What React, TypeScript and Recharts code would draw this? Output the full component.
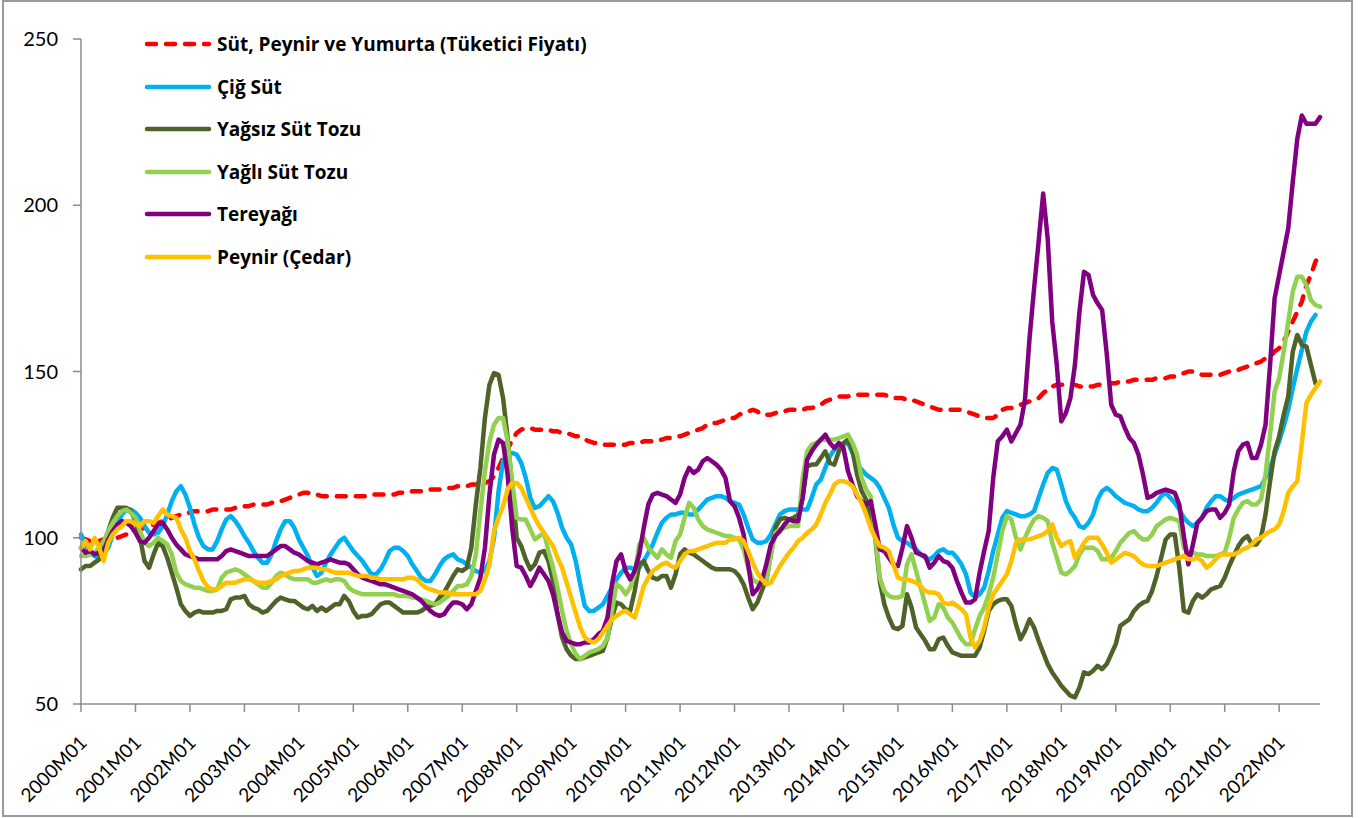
import React from "react";
import { LineChart, Line, XAxis, YAxis, Legend } from "recharts";

// ---- categories (monthly, 2000M01 .. 2022M10) ----
const months: string[] = [];
for (let y = 2000; y <= 2022; y++) {
  for (let m = 1; m <= 12; m++) {
    if (months.length < 274) months.push(`${y}M${String(m).padStart(2, "0")}`);
  }
}

const yTicks = [50, 100, 150, 200, 250];

// ---- series values ----
const sutPeynirYumurta = [
  100, 99.5, 99, 99, 99, 99.5, 99.5, 100, 100, 100.5, 101, 101,
  102, 102.5, 103, 103.5, 104, 104.5, 105, 105.5, 106, 106.5, 107, 107.5,
  107.5, 108, 108, 108, 108, 108.5, 108.5, 108.5, 108.5, 108.5, 109, 109,
  109.5, 109.5, 110, 110, 110, 110, 110.5, 110.5, 111, 111.5, 112, 112.5,
  113, 113.5, 113.5, 113, 113, 112.5, 112.5, 112.5, 112.5, 112.5, 112.5, 112.5,
  112.5, 112.5, 112.5, 112.5, 113, 113, 113, 113, 113, 113, 113.5, 113.5,
  113.5, 114, 114, 114, 114, 114.5, 114.5, 114.5, 114.5, 115, 115, 115.5,
  115.5, 115.5, 116, 116, 116, 116.5, 117, 118.5, 121, 124, 126.5, 129.5,
  131.5, 132.5, 133, 133, 132.5, 132.5, 132.5, 132.5, 132, 132, 131.5, 131.5,
  131, 130.5, 130.5, 129.5, 129, 128.5, 128.5, 128, 128, 128, 128, 128,
  128, 128.5, 128.5, 128.5, 129, 129, 129, 129.5, 129.5, 130, 130, 130.5,
  130.5, 131, 131.5, 132, 132.5, 133, 134, 134.5, 134.5, 135, 135.5, 136,
  136, 137, 137.5, 138, 138.5, 138, 137, 137, 137, 137.5, 138, 138,
  138.5, 138.5, 138.5, 138.5, 139, 139, 139.5, 140, 141, 141.5, 142, 142.5,
  142.5, 142.5, 143, 143, 143, 143, 143, 143, 143, 143, 142.5, 142,
  142, 142, 141.5, 141.5, 141, 140.5, 140, 139.5, 139, 138.5, 138.5, 138.5,
  138.5, 138.5, 138.5, 138, 137.5, 137, 136.5, 136, 136, 136, 137, 138.5,
  139, 139, 139.5, 140, 140.5, 141, 141.5, 142, 143.5, 144.5, 145.5, 146,
  146, 146, 146, 146, 145.5, 145.5, 145.5, 145.5, 146, 146, 146, 146.5,
  146.5, 147, 147, 147, 147.5, 147.5, 147.5, 147.5, 147.5, 148, 148, 148,
  148.5, 148.5, 149, 149.5, 150, 150, 149.5, 149, 149, 149, 149, 149,
  149.5, 150, 150, 150.5, 151, 151.5, 152, 152.5, 153, 154, 154.5, 156,
  157, 159, 162, 165, 168, 171, 176, 179, 183, 185.5,
];

const cigSut = [
  101, 98, 95.5, 94.5, 94, 95, 97, 101, 104, 107, 108.5, 108.5,
  107.5, 106, 103.5, 101.5, 101, 101.5, 103.5, 107, 111, 114, 115.5, 113,
  109, 104, 100, 97.5, 96.5, 96.5, 99, 102.5, 105.5, 106.5, 105, 103,
  100.5, 98.5, 96, 94, 92.5, 92.5, 95, 99, 102.5, 105, 105, 103,
  99.5, 97, 94.5, 91, 88.5, 89.5, 92.5, 95, 97, 99, 100, 98,
  96, 94.5, 93, 91, 89, 89, 90.5, 93, 96, 97, 97, 96,
  94.5, 92, 90, 88, 87, 87, 89, 91.5, 93.5, 94.5, 95, 93.5,
  93, 92, 91, 90, 89.5, 90, 93, 100, 114, 123, 125.5, 125.5,
  125, 122.5, 118, 112, 109, 109.5, 111, 112.5, 111, 107.5, 103, 100,
  98, 93, 86, 79.5, 78, 78, 79, 80, 82.5, 85, 87.5, 89.5,
  91, 91, 90.5, 91, 93, 95.5, 98, 101.5, 104.5, 106, 107, 107,
  107.5, 107.5, 107, 107, 108.5, 110, 111.5, 112, 112.5, 112.5, 112, 111,
  110.5, 110, 107, 103, 99.5, 98.5, 98.5, 99, 101, 104, 107, 108,
  108.5, 108.5, 108.5, 108.5, 108.5, 112, 116, 117.5, 121, 124.5, 126.5, 127.5,
  128, 128.5, 125.5, 122, 120.5, 119, 118, 117, 115, 112, 109, 104,
  100, 99, 98.5, 97.5, 96.5, 95, 94, 93.5, 94.5, 96, 96.5, 95.5,
  95.5, 94, 92, 89, 83.5, 82, 83, 85, 90, 96, 101, 106,
  108, 107.5, 107, 106.5, 106.5, 107, 108, 112, 116, 119.5, 121, 120.5,
  116, 111, 108, 106, 103.5, 103, 104.5, 107, 111.5, 114, 115, 114,
  112.5, 111.5, 110.5, 110, 109.5, 108.5, 108, 108, 109, 110.5, 112.5, 113.5,
  112, 110.5, 108.5, 106, 104.5, 103.5, 104.5, 106, 109, 111, 112.5, 112.5,
  111.5, 111, 112, 113, 113.5, 114, 114.5, 115, 115.5, 118, 121, 125,
  129, 133.5, 138.5, 145, 151, 156.5, 162, 165, 167, null,
];

const yagsizSutTozu = [
  90.5, 91.5, 91.5, 92.5, 93.5, 97, 102, 106, 109, 109, 109, 108,
  105, 100, 93, 91, 95, 98.5, 97.5, 94, 89.5, 85, 80, 78,
  76.5, 77.5, 78, 77.5, 77.5, 77.5, 78, 78, 78.5, 81.5, 82, 82,
  82.5, 80, 79, 78.5, 77.5, 78, 79.5, 81, 82, 81.5, 81, 81,
  80, 79, 78.5, 79.5, 78, 79, 78, 79, 80, 80, 82.5, 81,
  78, 76, 76.5, 76.5, 77, 78.5, 80, 80.5, 80.5, 79.5, 78.5, 77.5,
  77.5, 77.5, 77.5, 78, 79, 79.5, 80, 82, 83.5, 86, 88.5, 90.5,
  90, 91, 97, 110, 121, 136, 146, 149.5, 149, 142, 130, 115,
  100, 97.5, 93.5, 90.5, 92, 95.5, 96, 93, 87, 77, 70, 66.5,
  64.5, 63.5, 63.5, 64, 64.5, 65, 65.5, 66, 70, 76, 80.5, 80,
  78.5, 78, 84, 92, 93, 90, 88, 87.5, 88.5, 88.5, 85, 89,
  95, 96.5, 95.5, 95, 94, 93, 92, 91, 90.5, 90.5, 90.5, 90.5,
  90, 88.5, 86, 82, 78.5, 80.5, 84, 87.5, 95, 103, 105.5, 106,
  105.5, 106, 107, 112, 121.5, 122, 122, 124, 126, 122.5, 122, 126,
  128.5, 129.5, 126, 119, 114, 111.5, 106, 100, 87, 80, 76, 73,
  72.5, 73.5, 83, 79, 73, 71, 69, 66.5, 66.5, 69.5, 70, 67.5,
  65.5, 65, 64.5, 64.5, 64.5, 64.5, 67, 72, 78, 80, 81, 81.5,
  81.5, 79.5, 74, 69.5, 72, 75.5, 73, 69, 65.5, 62, 59.5, 57.5,
  55.5, 54, 52.5, 52, 55, 59.5, 59, 60, 61.5, 60.5, 62, 65,
  68, 73.5, 74.5, 75.5, 78, 79.5, 80.5, 81, 84, 88.5, 94, 99.5,
  101, 101, 91, 78, 77.5, 81, 83, 82, 83, 84.5, 85, 85.5,
  88, 91.5, 94.5, 97.5, 99.5, 100.5, 98, 98, 100, 107, 117, 126,
  130.5, 137, 142.5, 156, 161, 158, 157.5, 152, 146.5, null,
];

const yagliSutTozu = [
  94.5, 94.5, 95, 95.5, 97, 99, 102, 104.5, 106.5, 108, 108.5, 107.5,
  106, 102, 98.5, 97.5, 98.5, 100, 99, 98, 95, 89.5, 87, 86,
  85.5, 85, 85, 84.5, 84, 84, 84.5, 88, 89.5, 90, 90.5, 90,
  89, 88, 87, 86, 85, 85, 86.5, 88.5, 89.5, 89, 88, 87.5,
  87.5, 87.5, 87.5, 86.5, 86.5, 87, 87.5, 87, 87.5, 87.5, 87, 85,
  84, 83.5, 83, 83, 83, 83, 83, 83, 83, 83, 82.5, 82.5,
  82.5, 82, 82, 81.5, 81, 80.5, 80, 80.5, 81.5, 82.5, 84, 85.5,
  85.5, 86, 88.5, 95, 108, 120, 129, 134, 136, 136, 129, 117,
  106, 105.5, 105.5, 102.5, 99.5, 100.5, 101.5, 96, 91, 85, 78, 72,
  68, 65, 63.5, 64.5, 65.5, 66, 66.5, 67.5, 70, 78, 86, 85,
  83, 85, 89, 98, 100, 97, 95.5, 94, 96.5, 95, 94, 99,
  101, 106, 110.5, 109, 105.5, 103.5, 102.5, 102, 101.5, 101, 100.5, 100.5,
  100, 99.5, 96.5, 91, 87.5, 86.5, 86.5, 86.5, 95, 101.5, 102.5, 103,
  103.5, 103.5, 103.5, 118, 126, 128, 128.5, 129.5, 129.5, 129.5, 129.5, 130,
  130.5, 131, 128.5, 125, 118, 114.5, 112.5, 101, 88, 84, 82.5, 82,
  82, 82.5, 92, 95, 90, 85, 80, 75, 76, 80, 79, 76,
  74.5, 72, 69.5, 68, 68, 72.5, 76.5, 79, 83, 88, 95, 102,
  106.5, 105.5, 100, 96.5, 100, 103, 105.5, 106.5, 106, 105, 98.5, 94,
  89.5, 89, 90, 91.5, 95, 97, 97, 97, 96, 93.5, 93.5, 94,
  96, 98.5, 100, 101.5, 102, 100.5, 99.5, 99.5, 101, 103.5, 104.5, 105.5,
  106, 105.5, 105, 97, 95.5, 95.5, 95, 95, 94.5, 94.5, 94.5, 95,
  95.5, 100, 106, 108.5, 110.5, 111, 110, 110, 111.5, 119, 131, 144,
  148, 156, 165, 174, 178.5, 178.5, 176, 171.5, 170, 169.5,
];

const tereyagi = [
  97, 95.5, 96, 95, 95.5, 96, 99.5, 102, 104, 105, 104.5, 103.5,
  101.5, 99, 98.5, 100, 102, 104, 104.5, 102.5, 100, 98, 96.5, 95,
  94.5, 94, 93.5, 93.5, 93.5, 93.5, 93.5, 94.5, 96, 96.5, 96, 95.5,
  95, 94.5, 94.5, 94.5, 94.5, 94.5, 95.5, 96.5, 97.5, 97.5, 96.5, 95.5,
  95, 94, 93, 92.5, 92, 92.5, 93, 93.5, 93, 92.5, 92.5, 92,
  90.5, 89, 88, 87.5, 87, 86.5, 86, 86, 85.5, 85, 84.5, 84,
  83.5, 83, 82, 81, 79.5, 78, 77, 76.5, 77, 79, 80.5, 80.5,
  80, 78.5, 80, 84, 88, 97, 113, 125, 129.5, 128.5, 119, 103,
  91.5, 91, 88.5, 85.5, 88, 91, 89, 87, 83, 77, 71.5, 69,
  68.5, 68, 68, 68.5, 68.5, 69.5, 71, 72, 76, 86, 93, 95,
  90, 87.5, 90, 95, 103, 110, 113, 113.5, 113, 112.5, 111.5, 110.5,
  113, 118, 121, 119.5, 120.5, 123, 124, 123, 122, 120.5, 118, 111,
  109.5, 106, 101, 92, 83, 84.5, 87, 92, 98, 100.5, 102, 104,
  105.5, 105, 105, 112, 123.5, 126, 128, 129.5, 131, 128.5, 127, 128.5,
  127, 120, 116, 112.5, 111, 110, 111, 104, 96.5, 96, 94, 92,
  91.5, 97, 103.5, 100, 95.5, 95, 94.5, 91, 92.5, 94.5, 93, 92.5,
  91, 87, 83.5, 80.5, 80.5, 81.5, 89.5, 96, 102, 118, 129, 130.5,
  132.5, 129, 131.5, 134, 141.5, 160, 175, 189, 203.5, 190, 165, 152,
  135, 137.5, 142, 152, 168, 180, 179, 173, 170.5, 168.5, 155.5, 140,
  137, 136.5, 133, 130, 128.5, 125, 119, 112, 112.5, 113.5, 114, 114.5,
  114, 113.5, 110, 100.5, 92, 98, 104.5, 106, 108, 108.5, 108.5, 106,
  107.5, 110, 120, 126, 128, 128.5, 124, 124, 128, 134, 152, 172,
  179, 186, 193, 207, 220, 227, 224.5, 224.5, 224.5, 226.5,
];

const peynirCedar = [
  97, 99, 96.5, 100, 97, 93, 98.5, 101, 102.5, 103.5, 105, 105,
  104, 103.5, 105, 105, 104.5, 106.5, 108.5, 107, 106.5, 106, 102.5, 100,
  96, 93.5, 90, 87, 85, 84.5, 84.5, 85.5, 86.5, 86.5, 86.5, 87,
  87.5, 87.5, 87, 86.5, 86.5, 86.5, 87, 87.5, 88.5, 89, 89.5, 90,
  90, 90.5, 91, 91, 91, 90.5, 90.5, 90, 89.5, 89.5, 89.5, 89.5,
  89, 88.5, 88.5, 88.5, 88, 88, 87.5, 87.5, 87.5, 87.5, 87.5, 87.5,
  88, 88, 87.5, 86, 85, 84.5, 84, 83.5, 83.5, 83.5, 83, 83,
  83, 83, 83, 83, 84, 87.5, 92, 102, 106, 109.5, 114.5, 116.5,
  116.5, 115, 112, 109, 106, 103.5, 101.5, 99.5, 97.5, 94, 91, 86.5,
  82, 77.5, 73, 70, 69, 68.5, 69.5, 71.5, 73.5, 75.5, 76.5, 77.5,
  78, 77, 76, 80.5, 85.5, 88, 90, 91, 92, 92.5, 91.5, 91,
  93, 95, 96, 96, 96.5, 97, 97.5, 98, 98.5, 98.5, 98.5, 99.5,
  99.5, 100, 99, 96, 92.5, 89.5, 87.5, 86, 86.5, 89, 91.5, 93.5,
  95.5, 97, 99, 100, 101.5, 102.5, 104, 107, 110.5, 113, 116, 117,
  117, 116.5, 115.5, 113, 110.5, 107, 103, 100, 97.5, 97, 96, 92,
  88, 87.5, 87.5, 87, 86.5, 85.5, 84, 83.5, 83.5, 83, 80.5, 80,
  80.5, 79.5, 78.5, 77, 70, 67, 69, 73, 79, 83, 85, 87,
  89, 93, 98.5, 99.5, 99.5, 99.5, 100, 100.5, 101, 102, 104, 100,
  97.5, 98.5, 99, 94, 96, 98.5, 100, 100, 100, 98, 95.5, 92.5,
  93.5, 94.5, 95.5, 95, 94.5, 93, 92, 91.5, 91.5, 91.5, 92, 92.5,
  93, 93.5, 94, 94.5, 93.5, 93.5, 94, 93, 91, 92, 93.5, 95,
  95, 95, 95, 95.5, 96.5, 97, 98, 99.5, 100, 101, 102, 102.5,
  104, 108, 113.5, 115.5, 117, 128.5, 140.5, 143, 145, 147,
];

const data = months.map((month, i) => ({
  month,
  spy: sutPeynirYumurta[i],
  cig: cigSut[i],
  yagsiz: yagsizSutTozu[i],
  yagli: yagliSutTozu[i],
  tere: tereyagi[i],
  peynir: peynirCedar[i],
}));

const series = [
  { key: "spy", name: "Süt, Peynir ve Yumurta (Tüketici Fiyatı)", color: "#FF0000", dash: "9 10" },
  { key: "cig", name: "Çiğ Süt", color: "#00B0F0" },
  { key: "yagsiz", name: "Yağsız Süt Tozu", color: "#4F6228" },
  { key: "yagli", name: "Yağlı Süt Tozu", color: "#92D050" },
  { key: "tere", name: "Tereyağı", color: "#800080" },
  { key: "peynir", name: "Peynir (Çedar)", color: "#FFC000" },
];

const FONT = "Lato, 'Liberation Sans', sans-serif";
const LEGEND_FONT = "'Open Sans', Lato, sans-serif";

const XTick = (props: any) => {
  const { x, y, payload } = props;
  const ax = x + 7;
  const ay = y + 32;
  return (
    <text
      x={ax}
      y={ay}
      transform={`rotate(-45 ${ax} ${ay})`}
      textAnchor="end"
      fontSize={19}
      fontFamily={FONT}
      fill="#000"
    >
      {payload.value}
    </text>
  );
};

const LegendContent = () => {
  return (
    <div style={{ fontFamily: LEGEND_FONT }}>
      {series.map((s) => (
        <div key={s.key} style={{ height: 42.5, display: "flex", alignItems: "center" }}>
          <svg width={72} height={10} style={{ display: "block" }}>
            <line
              x1={6}
              x2={68}
              y1={5}
              y2={5}
              stroke={s.color}
              strokeWidth={4.5}
              strokeLinecap="round"
              strokeDasharray={s.dash}
            />
          </svg>
          <span style={{ marginLeft: 4, fontWeight: 700, fontSize: 19, color: "#000", whiteSpace: "nowrap" }}>
            {s.name}
          </span>
        </div>
      ))}
    </div>
  );
};

export default function App() {
  return (
    <div style={{ position: "absolute", left: 0, top: 0, width: 1362, height: 818, background: "#fff" }}>
      <div
        style={{
          position: "absolute",
          left: 2,
          top: 0,
          width: 1351,
          height: 817,
          border: "2px solid #9a9a9a",
          boxSizing: "border-box",
        }}
      />
      <div style={{ position: "absolute", left: 0, top: 0 }}>
        <LineChart
          width={1362}
          height={818}
          data={data}
          margin={{ top: 39, right: 42, bottom: 14, left: 21 }}
        >
          <XAxis
            dataKey="month"
            interval={11}
            height={100}
            tickSize={8}
            tickMargin={0}
            tick={<XTick />}
            axisLine={{ stroke: "#8c8c8c", strokeWidth: 1.5 }}
            tickLine={{ stroke: "#8c8c8c", strokeWidth: 1.5 }}
          />
          <YAxis
            domain={[50, 250]}
            ticks={yTicks}
            width={60}
            tickSize={8}
            tickMargin={15}
            axisLine={{ stroke: "#8c8c8c", strokeWidth: 1.5 }}
            tickLine={{ stroke: "#8c8c8c", strokeWidth: 1.5 }}
            tick={{ fontSize: 20, fontFamily: FONT, fill: "#000" }}
          />
          <Legend
            layout="vertical"
            align="center"
            verticalAlign="middle"
            wrapperStyle={{ left: 141, top: 23, width: 560, height: 260 }}
            content={<LegendContent />}
          />
          {series.map((s) => (
            <Line
              key={s.key}
              type="linear"
              dataKey={s.key}
              name={s.name}
              stroke={s.color}
              strokeWidth={4.5}
              strokeDasharray={s.dash}
              strokeLinecap="round"
              strokeLinejoin="round"
              dot={false}
              activeDot={false}
              isAnimationActive={false}
            />
          ))}
        </LineChart>
      </div>
    </div>
  );
}
